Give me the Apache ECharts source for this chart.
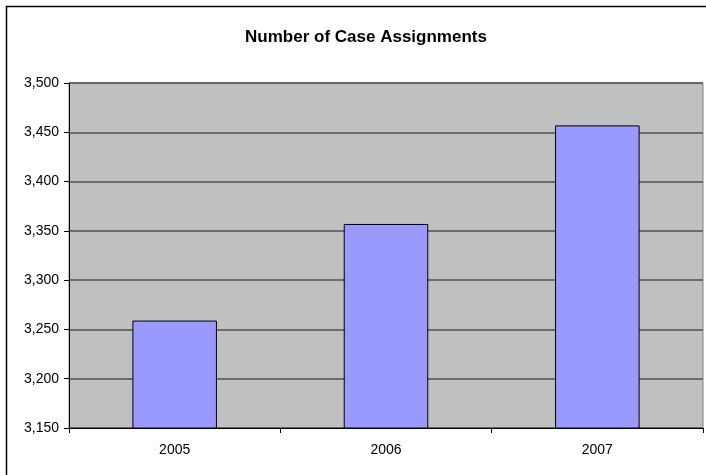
<!DOCTYPE html>
<html>
<head>
<meta charset="utf-8">
<script src="https://cdn.jsdelivr.net/npm/echarts@6/dist/echarts.min.js"></script>
<style>html,body{margin:0;padding:0;background:#fff;}#c{width:706px;height:475px;}</style>
</head>
<body>
<div id="c"></div>
<script>
var titleText = 'Number of Case Assignments';
var categories = ['2005', '2006', '2007'];
var values = [3259, 3357, 3457];
var yMin = 3150, yMax = 3500, yStep = 50;

var chart = echarts.init(document.getElementById('c'), null, {renderer: 'canvas'});
chart.setOption({
  animation: false,
  backgroundColor: '#ffffff',
  title: {
    text: titleText,
    left: 361, top: 24, textAlign: 'center',
    textStyle: {fontFamily: 'Liberation Sans, Arial, sans-serif', fontSize: 17, fontWeight: 'bold', color: '#000'}
  },
  graphic: [{
    type: 'rect', shape: {x: 6.5, y: 6.5, width: 720, height: 490},
    style: {fill: 'none', stroke: '#000', lineWidth: 1.5}, z: 100
  }],
  grid: {left: 69, right: 3, top: 83, bottom: 47, show: true, backgroundColor: '#C0C0C0', borderColor: '#808080', borderWidth: 1, containLabel: false},
  xAxis: {
    type: 'category', data: categories, boundaryGap: true,
    axisLine: {lineStyle: {color: '#000', width: 1}},
    axisTick: {show: true, alignWithLabel: false, length: 5, lineStyle: {color: '#000'}},
    axisLabel: {fontFamily: 'Liberation Sans, Arial, sans-serif', fontSize: 14, color: '#000', margin: 15}
  },
  yAxis: {
    type: 'value', min: yMin, max: yMax, interval: yStep,
    axisLine: {show: true, lineStyle: {color: '#000', width: 1}},
    axisTick: {show: true, length: 5, lineStyle: {color: '#000'}},
    splitLine: {show: true, lineStyle: {color: '#505050', width: 1.5}},
    axisLabel: {fontFamily: 'Liberation Sans, Arial, sans-serif', fontSize: 14, color: '#000', margin: 10,
      formatter: function (v) { return v.toLocaleString('en-US'); }}
  },
  series: [{
    type: 'bar', data: values, barWidth: '40%',
    itemStyle: {color: '#9999FF', borderColor: '#000', borderWidth: 1}
  }]
});
</script>
</body>
</html>
